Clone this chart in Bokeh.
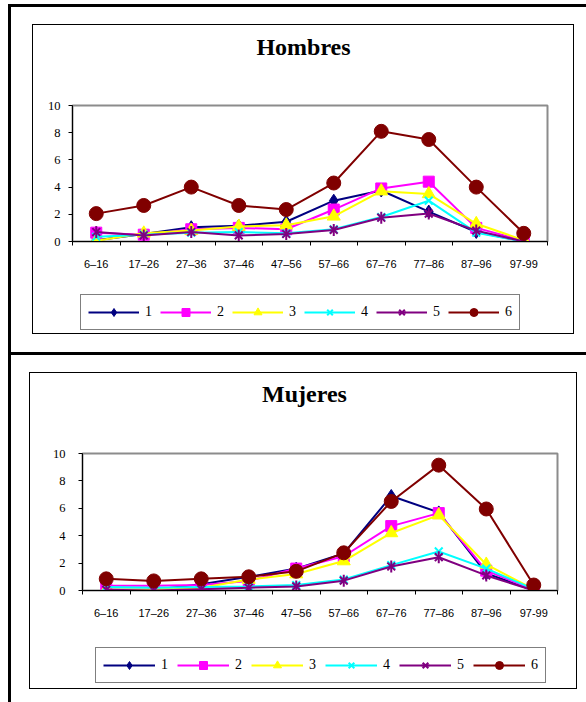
from bokeh.plotting import figure
from bokeh.models import (Range1d, FixedTicker, LinearAxis, Legend, LegendItem,
                          Label, ColumnDataSource)
from bokeh.layouts import column
from bokeh.embed import file_html
from bokeh.resources import INLINE
import math

# Age groups on the x axis
age_groups = ["6–16", "17–26", "27–36", "37–46", "47–56",
              "57–66", "67–76", "77–86", "87–96", "97-99"]
series_labels = ["1", "2", "3", "4", "5", "6"]
y_ticks = [0, 2, 4, 6, 8, 10]

# Men
hombres_1 = [0.1, 0.55, 1.05, 1.15, 1.45, 3.0, 3.75, 2.2, 0.7, 0.0]
hombres_2 = [0.65, 0.5, 0.9, 1.0, 0.9, 2.35, 3.9, 4.4, 1.0, 0.05]
hombres_3 = [0.05, 0.6, 0.8, 1.1, 1.2, 1.85, 3.7, 3.5, 1.3, 0.1]
hombres_4 = [0.35, 0.5, 0.65, 0.7, 0.6, 0.9, 1.8, 3.0, 0.65, 0.0]
hombres_5 = [0.7, 0.45, 0.7, 0.45, 0.55, 0.85, 1.75, 2.05, 0.8, 0.0]
hombres_6 = [2.05, 2.65, 4.0, 2.65, 2.35, 4.3, 8.1, 7.5, 4.0, 0.6]

# Women
mujeres_1 = [0.05, 0.05, 0.45, 1.0, 1.6, 2.7, 6.9, 5.7, 1.25, 0.0]
mujeres_2 = [0.35, 0.35, 0.4, 0.7, 1.6, 2.5, 4.7, 5.65, 1.45, 0.05]
mujeres_3 = [0.05, 0.1, 0.2, 0.8, 1.2, 2.15, 4.2, 5.5, 1.9, 0.1]
mujeres_4 = [0.25, 0.2, 0.25, 0.3, 0.4, 0.8, 1.85, 2.85, 1.6, 0.1]
mujeres_5 = [0.05, 0.0, 0.1, 0.2, 0.3, 0.72, 1.75, 2.43, 1.1, 0.0]
mujeres_6 = [0.85, 0.7, 0.85, 1.0, 1.4, 2.75, 6.5, 9.15, 5.95, 0.4]

hombres = [hombres_1, hombres_2, hombres_3, hombres_4, hombres_5, hombres_6]
mujeres = [mujeres_1, mujeres_2, mujeres_3, mujeres_4, mujeres_5, mujeres_6]

COLORS = ["#000080", "#FF00FF", "#FFFF00", "#00FFFF", "#800080", "#800000"]
SERIF = "Liberation Serif"
SANS = "Liberation Sans"
PAGE_W = 586

# Page furniture as (x, y, w, h) rectangles in page pixels:
# outer table rules and the thin box around each chart.
RULES = [
    (8, 4, 3, 698), (8, 4, 578, 3), (8, 352, 578, 3),
    (32, 24, 542, 1), (32, 333, 542, 1), (32, 24, 1, 310), (573, 24, 1, 310),
    (29, 372, 548, 1), (29, 688, 548, 1), (29, 372, 1, 317), (576, 372, 1, 317),
]


def rules_css(y0, height):
    """CSS background drawing the part of RULES that falls inside one strip."""
    layers = []
    for x, y, w, h in RULES:
        top, bot = max(y, y0), min(y + h, y0 + height)
        if bot <= top:
            continue
        layers.append(f"linear-gradient(#000, #000) {x}px {top - y0}px / "
                      f"{w}px {bot - top}px no-repeat")
    layers.append("#fff")
    return {"background": ", ".join(layers)}


def unaligned(p):
    # each strip keeps its own frame; no edge sharing between stacked plots
    if "frame_align" in p.properties():
        p.frame_align = False
    return p


def strip(y0, height, x_range=None, y_range=None):
    """A plain canvas strip whose frame spans it."""
    p = figure(width=PAGE_W, height=height,
               x_range=x_range or Range1d(0, PAGE_W),
               y_range=y_range or Range1d(height, 0),
               x_axis_type=None, y_axis_type=None,
               output_backend="svg", toolbar_location=None,
               min_border=0, min_border_left=0, min_border_right=0,
               min_border_top=0, min_border_bottom=0,
               background_fill_color=None, border_fill_color=None)
    p.outline_line_color = None
    p.styles = rules_css(y0, height)
    return unaligned(p)


def add_series(p, k, src):
    c = COLORS[k]
    rs = [p.line("x", "y", source=src, line_color=c, line_width=2)]
    if k == 0:
        rs.append(p.scatter("x", "y", source=src, marker="diamond", size=13,
                            fill_color=c, line_color=c))
    elif k == 1:
        rs.append(p.scatter("x", "y", source=src, marker="square", size=11,
                            fill_color=c, line_color=c))
    elif k == 2:
        rs.append(p.scatter("x", "y", source=src, marker="triangle", size=13,
                            fill_color=c, line_color=c))
    elif k == 3:
        rs.append(p.scatter("x", "y", source=src, marker="x", size=11,
                            line_color=c, line_width=2))
    elif k == 4:
        # six-armed star: an x plus a vertical stroke
        rs.append(p.scatter("x", "y", source=src, marker="x", size=11,
                            line_color=c, line_width=2))
        rs.append(p.scatter("x", "y", source=src, marker="dash", size=12,
                            angle=math.pi / 2, line_color=c, line_width=2))
    else:
        rs.append(p.scatter("x", "y", source=src, marker="circle", size=14,
                            fill_color=c, line_color=c))
    return rs


def title_strip(text, y0, height, cx, baseline):
    p = strip(y0, height)
    p.add_layout(Label(x=cx, y=baseline, text=text, text_align="center",
                       text_baseline="alphabetic", text_font=SERIF,
                       text_font_size="24px", text_font_style="bold",
                       text_color="black"))
    return p


def chart_strip(data, y0, height, frame_left, frame_right, frame_top, frame_bottom,
                y_standoff):
    p = figure(width=PAGE_W, height=height, x_range=Range1d(0, 10),
               y_range=Range1d(0, 10), x_axis_type=None, y_axis_type=None,
               output_backend="svg", toolbar_location=None,
               min_border_left=frame_left, min_border_right=PAGE_W - frame_right,
               min_border_top=frame_top - y0,
               min_border_bottom=y0 + height - frame_bottom,
               background_fill_color="white", border_fill_color=None)
    unaligned(p)
    p.outline_line_color = "#8c8c8c"
    p.outline_line_width = 2
    p.styles = rules_css(y0, height)

    centers = [i + 0.5 for i in range(len(age_groups))]
    bounds = list(range(len(age_groups) + 1))

    xaxis = LinearAxis(ticker=FixedTicker(ticks=centers, minor_ticks=bounds),
                       major_label_overrides=dict(zip(centers, age_groups)))
    xaxis.major_tick_line_color = None
    xaxis.major_tick_out = 0
    xaxis.major_tick_in = 0
    xaxis.minor_tick_line_color = "black"
    xaxis.minor_tick_out = 4
    xaxis.minor_tick_in = 0
    xaxis.axis_line_color = "black"
    xaxis.major_label_standoff = 12
    xaxis.major_label_text_font = SANS
    xaxis.major_label_text_font_size = "11px"
    xaxis.major_label_text_color = "black"
    p.add_layout(xaxis, "below")

    yaxis = LinearAxis(ticker=FixedTicker(ticks=y_ticks))
    yaxis.major_tick_out = 4
    yaxis.major_tick_in = 0
    yaxis.minor_tick_line_color = None
    yaxis.axis_line_color = "black"
    yaxis.major_tick_line_color = "black"
    yaxis.major_label_standoff = y_standoff
    yaxis.major_label_text_font = SERIF
    yaxis.major_label_text_font_size = "12.5px"
    yaxis.major_label_text_color = "black"
    p.add_layout(yaxis, "left")

    for k, vals in enumerate(data):
        add_series(p, k, ColumnDataSource(dict(x=centers, y=vals)))
    return p


def legend_strip(data, y0, height, box_left, box_bottom, glyph_w, spacing):
    # The key's own copies of the series sit in a value window far above
    # their data, so only their legend swatches show.
    p = strip(y0, height, Range1d(0, 10), Range1d(100, 110))
    centers = [i + 0.5 for i in range(len(age_groups))]
    items = []
    for k, name in enumerate(series_labels):
        src = ColumnDataSource(dict(x=centers, y=data[k]))
        rs = add_series(p, k, src)
        items.append(LegendItem(label=name, renderers=rs))
    legend = Legend(items=items, orientation="horizontal",
                    location=(box_left, y0 + height - box_bottom),
                    border_line_color="black", border_line_width=1,
                    background_fill_color="white", background_fill_alpha=1,
                    padding=7, spacing=spacing, margin=0,
                    glyph_width=glyph_w, glyph_height=20,
                    label_width=0, label_height=16, label_standoff=6,
                    label_text_font=SERIF, label_text_font_size="14px",
                    label_text_color="black")
    p.add_layout(legend)
    return p


parts = [
    title_strip("Hombres", 0, 88, 303, 46),
    chart_strip(hombres, 88, 202, 72, 547, 105, 241, 8),
    legend_strip(hombres, 290, 62, 80, 330, 51, 8),
    title_strip("Mujeres", 352, 88, 304, 41),
    chart_strip(mujeres, 440, 200, 82, 557, 453, 590, 13),
    legend_strip(mujeres, 640, 62, 95, 683, 52, 9),
]

root = column(*parts, spacing=0)

open("out.html", "w").write(file_html(root, INLINE))
